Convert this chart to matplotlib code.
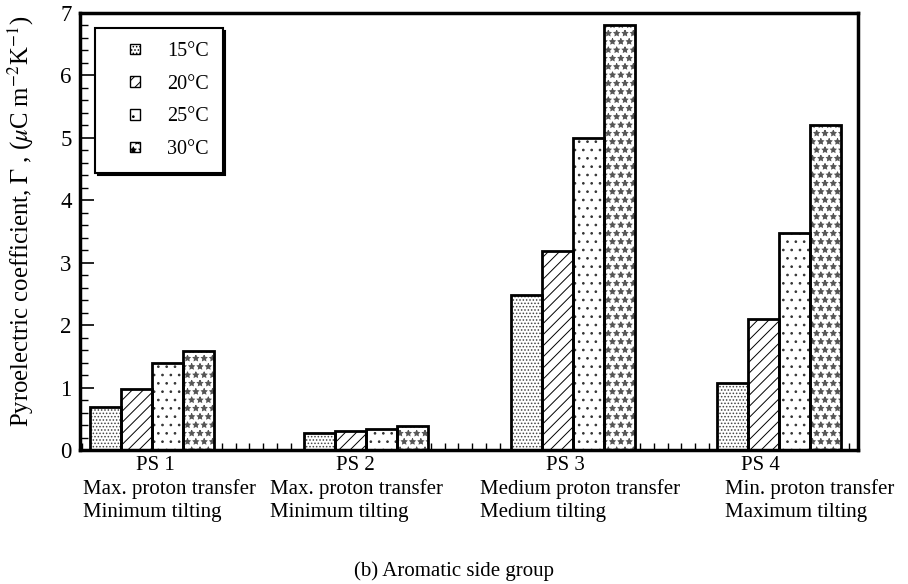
import matplotlib
matplotlib.use("Agg")
import matplotlib.pyplot as plt
import numpy as np
from matplotlib.ticker import MultipleLocator
from matplotlib.legend_handler import HandlerPatch
from matplotlib.patches import Rectangle

plt.rcParams['font.family'] = ['Liberation Serif', 'DejaVu Serif']
plt.rcParams['mathtext.fontset'] = 'stix'
plt.rcParams['hatch.linewidth'] = 0.7

groups = ["PS 1", "PS 2", "PS 3", "PS 4"]
line2 = ["Max. proton transfer", "Max. proton transfer", "Medium proton transfer", "Min. proton transfer"]
line3 = ["Minimum tilting", "Minimum tilting", "Medium tilting", "Maximum tilting"]
temps = ["15°C", "20°C", "25°C", "30°C"]
v15 = [0.69, 0.28, 2.48, 1.08]
v20 = [0.97, 0.30, 3.18, 2.10]
v25 = [1.39, 0.33, 5.00, 3.48]
v30 = [1.59, 0.39, 6.80, 5.20]
series = [v15, v20, v25, v30]

# layout / style (not data)
group_pos = np.array([0.0, 1.025, 2.015, 3.0])
hatches = ['.....', '///', '..', '**']
hatch_colors = ['#444444', 'black', '#333333', '#555555']

fig = plt.figure(figsize=(9.08, 5.84), dpi=100)
ax = fig.add_axes([80/908, (584-450)/584, 778/908, 437/584])

w = 0.149
proxies = []
for i, (vals, h, hc, lab) in enumerate(zip(series, hatches, hatch_colors, temps)):
    xs = group_pos + (i - 1.5) * w
    ax.bar(xs, vals, w, facecolor='white', edgecolor=hc,
           linewidth=0, hatch=h, zorder=2)
    ax.bar(xs, vals, w, fill=False, edgecolor='black', linewidth=2.0, zorder=3)
    proxies.append(Rectangle((0, 0), 1, 1, facecolor='white', edgecolor='black',
                             hatch=h, label=lab))

ax.set_xlim(-0.344, 3.378)
ax.set_ylim(0, 7)
ax.yaxis.set_major_locator(MultipleLocator(1))
ax.yaxis.set_minor_locator(MultipleLocator(0.2))
ax.tick_params(axis='y', which='major', direction='in', length=10, width=1.2,
               labelsize=16.5, right=False, pad=6)
ax.tick_params(axis='y', which='minor', direction='in', length=6, width=1.0, right=False)
ax.set_xticks([])
ax.xaxis.set_minor_locator(MultipleLocator(1/15))
ax.tick_params(axis='x', which='minor', direction='in', length=5, width=1.0, top=False)
for s in ax.spines.values():
    s.set_linewidth(2.5)

ax.set_ylabel(r'Pyroelectric coefficient, $\Gamma$ , ($\mu$C m$^{-2}$K$^{-1}$)',
              fontsize=17.8)
ax.yaxis.set_label_coords(-0.057, 0.524)


def small_square(legend, orig_handle, xdescent, ydescent, width, height, fontsize):
    s = 0.52 * fontsize
    return Rectangle((width - s - xdescent, -ydescent + (height - s) / 2), s, s)


class SqHandler(HandlerPatch):
    def create_artists(self, legend, orig_handle, xdescent, ydescent, width, height, fontsize, trans):
        arts = super().create_artists(legend, orig_handle, xdescent, ydescent, width, height, fontsize, trans)
        for a in arts:
            a.set_linewidth(1.0)
            a.set_edgecolor('black')
        return arts


leg = ax.legend(handles=proxies, loc='upper left', bbox_to_anchor=(0.019, 0.966), borderaxespad=0,
                fontsize=14.5, frameon=True, fancybox=False, edgecolor='black',
                handlelength=1.6, handleheight=0.8, handletextpad=1.35,
                labelspacing=0.65, borderpad=0.66,
                handler_map={Rectangle: SqHandler(patch_func=small_square)},
                shadow={'color': 'black', 'alpha': 1})
leg.get_frame().set_linewidth(1.5)

# group labels
ps_x = [155, 355, 565, 760]
ln_x = [83, 270, 480, 725]
for i in range(len(groups)):
    fig.text(ps_x[i] / 908, 1 - 466 / 584, groups[i], ha='center', va='center', fontsize=15)
    fig.text(ln_x[i] / 908, 1 - 489 / 584, line2[i], ha='left', va='center', fontsize=15)
    fig.text(ln_x[i] / 908, 1 - 512 / 584, line3[i], ha='left', va='center', fontsize=15)
fig.text(454 / 908, 1 - 571 / 584, "(b) Aromatic side group", ha='center', va='center', fontsize=15)

fig.savefig("out.png", dpi=100)
